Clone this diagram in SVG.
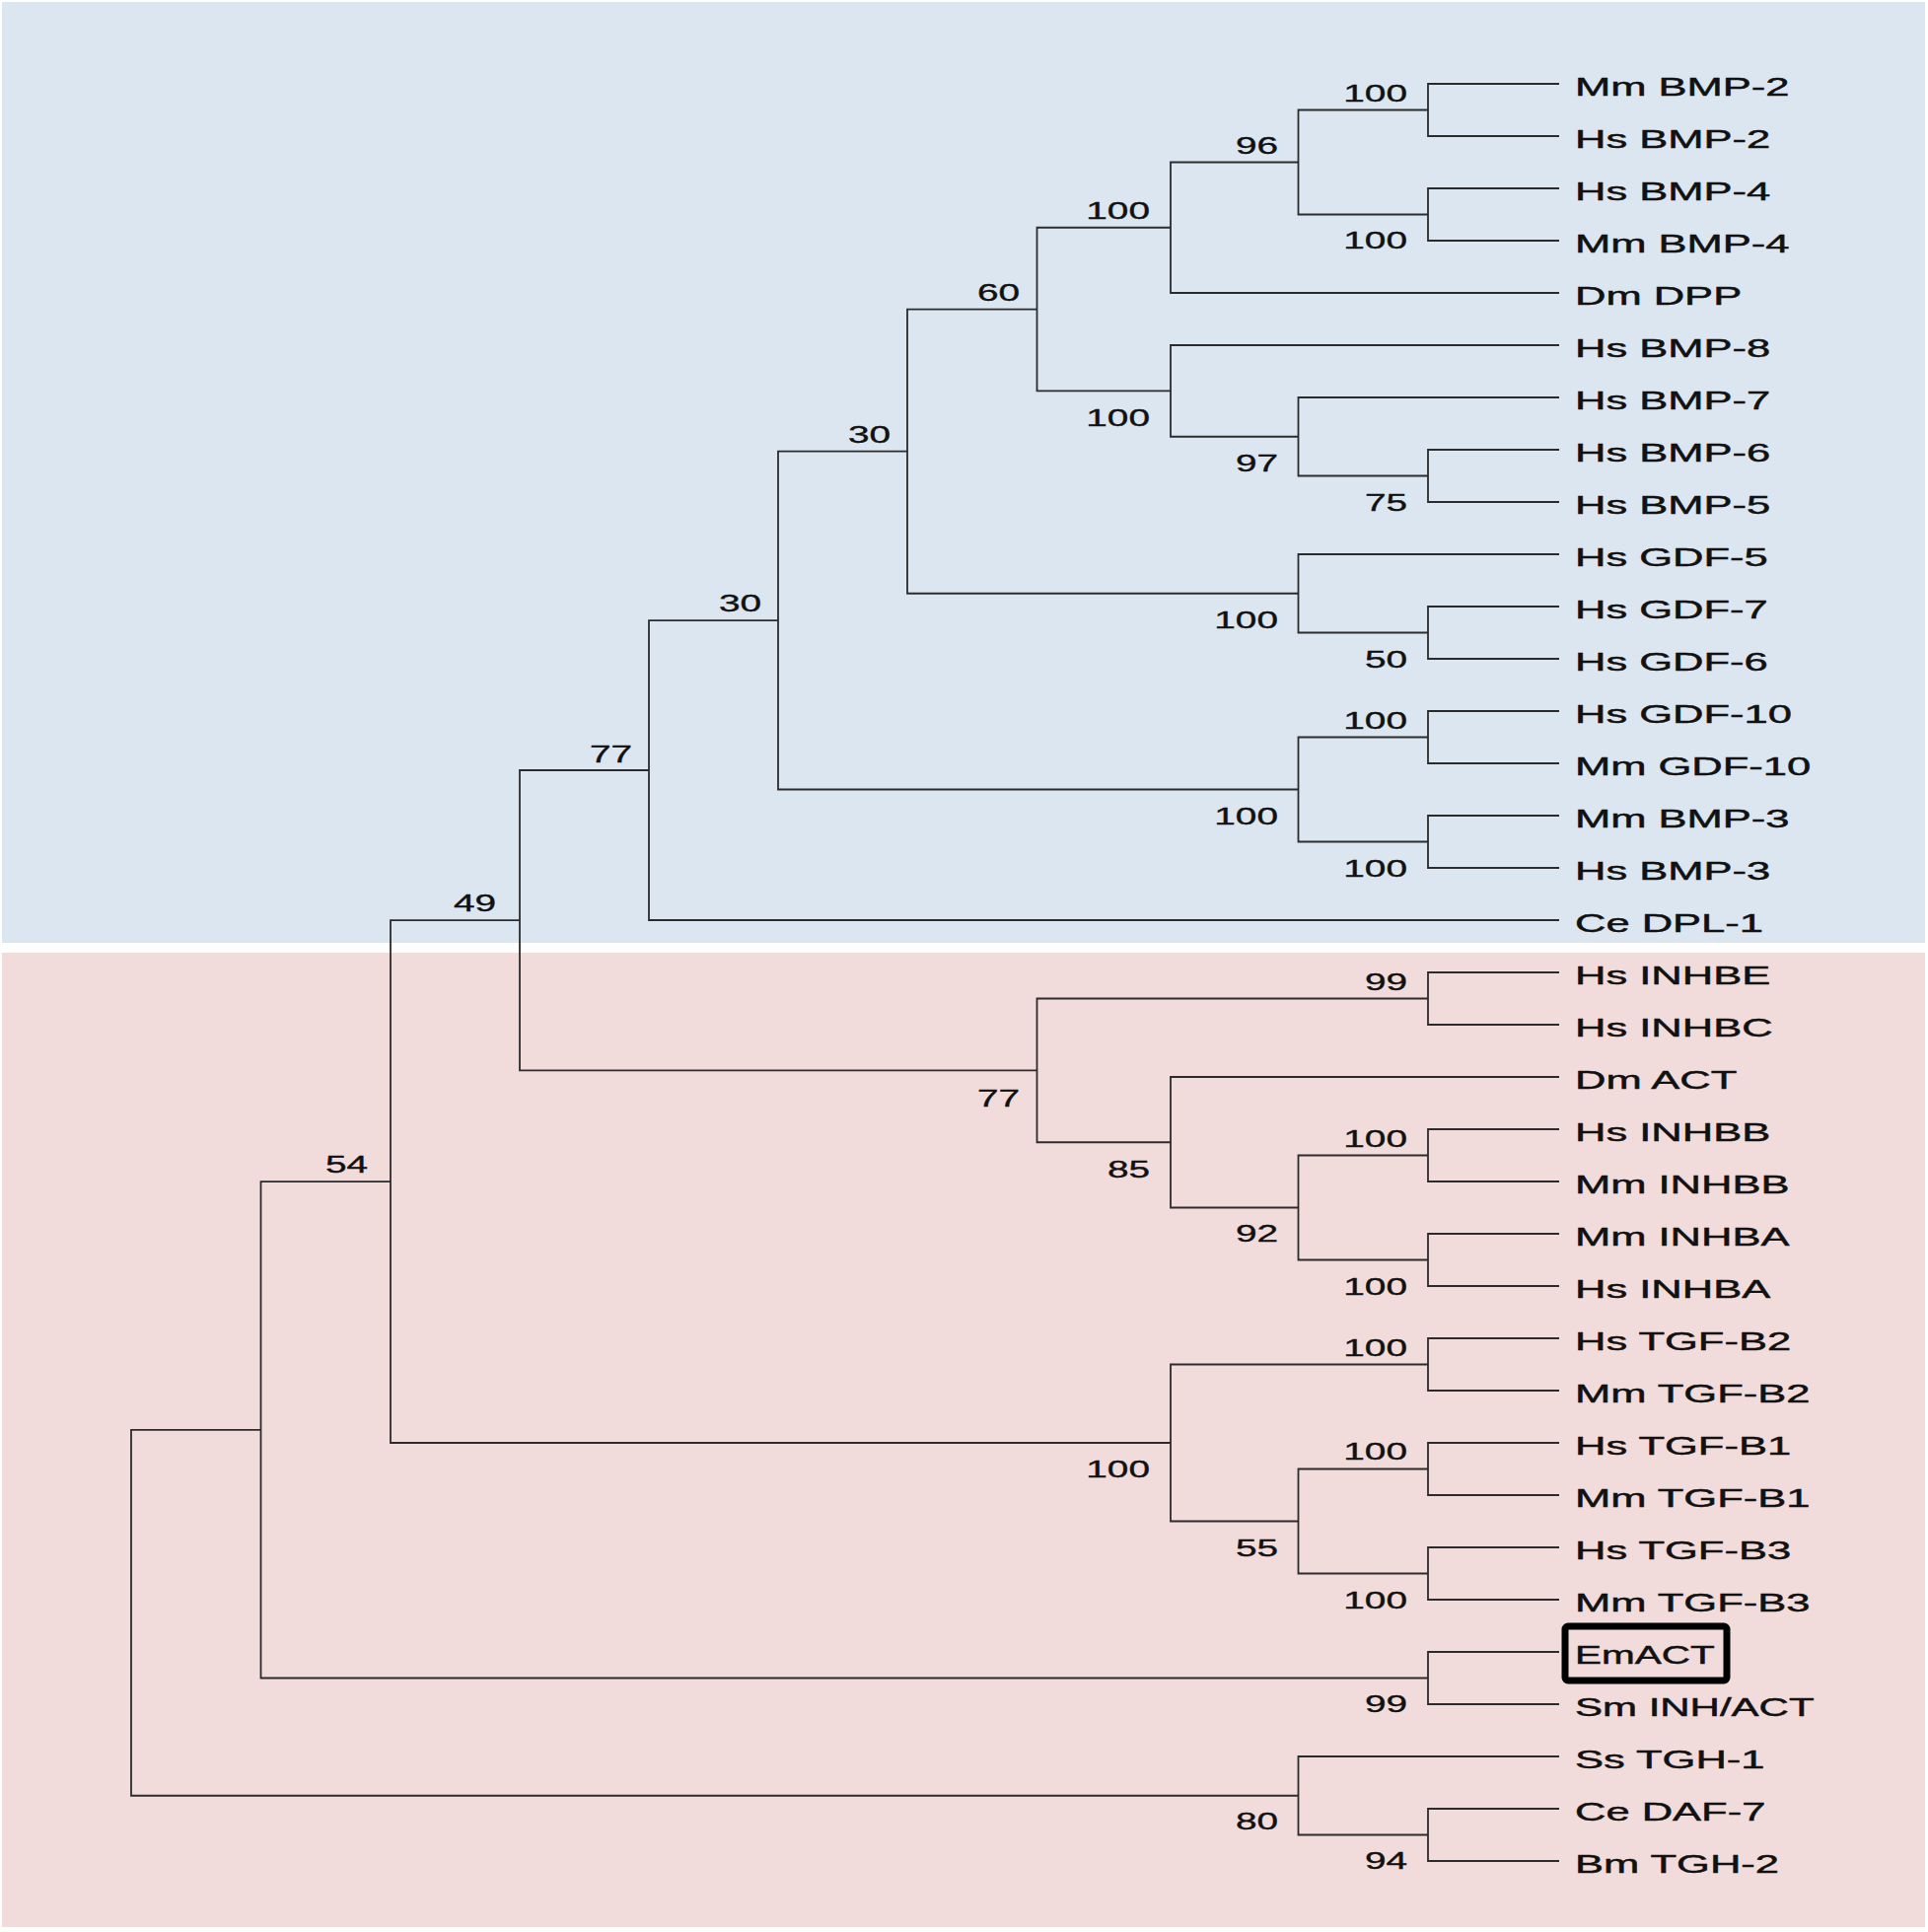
<svg xmlns="http://www.w3.org/2000/svg" width="1955" height="1959" viewBox="0 0 1955 1959">
<style>
.br{fill:none;stroke:#2b2b2b;stroke-width:1.8}
.leaf{font-family:"Liberation Sans",Arial,sans-serif;font-size:25px;fill:#111;stroke:#111;stroke-width:0.45}
.bs{font-family:"Liberation Sans",Arial,sans-serif;font-size:23.5px;fill:#111;stroke:#111;stroke-width:0.35;text-anchor:end}
</style>
<rect x="0" y="0" width="1955" height="1959" fill="#ffffff"/>
<rect x="2" y="2" width="1950" height="954" fill="#dce6f1"/>
<rect x="2" y="966" width="1950" height="988" fill="#f2dcdb"/>
<g id="connectors">
<path class="br" d="M1581 85 H1448 V138 H1581"/>
<path class="br" d="M1581 191 H1448 V244 H1581"/>
<path class="br" d="M1448 111.5 H1316.5 V217.5 H1448"/>
<path class="br" d="M1316.5 164.5 H1187 V297 H1581"/>
<path class="br" d="M1581 456 H1448 V509 H1581"/>
<path class="br" d="M1581 403 H1316.5 V482.5 H1448"/>
<path class="br" d="M1581 350 H1187 V442.75 H1316.5"/>
<path class="br" d="M1187 230.75 H1051.5 V396.4 H1187"/>
<path class="br" d="M1581 615 H1448 V668 H1581"/>
<path class="br" d="M1581 562 H1316.5 V641.5 H1448"/>
<path class="br" d="M1051.5 313.6 H920 V601.75 H1316.5"/>
<path class="br" d="M1581 721 H1448 V774 H1581"/>
<path class="br" d="M1581 827 H1448 V880 H1581"/>
<path class="br" d="M1448 747.5 H1316.5 V853.5 H1448"/>
<path class="br" d="M920 457.7 H789 V800.5 H1316.5"/>
<path class="br" d="M789 629.1 H658 V933 H1581"/>
<path class="br" d="M1581 986 H1448 V1039 H1581"/>
<path class="br" d="M1581 1145 H1448 V1198 H1581"/>
<path class="br" d="M1581 1251 H1448 V1304 H1581"/>
<path class="br" d="M1448 1171.5 H1316.5 V1277.5 H1448"/>
<path class="br" d="M1581 1092 H1187 V1224.5 H1316.5"/>
<path class="br" d="M1448 1012.5 H1051.5 V1158.25 H1187"/>
<path class="br" d="M658 781 H527 V1085.4 H1051.5"/>
<path class="br" d="M1581 1357 H1448 V1410 H1581"/>
<path class="br" d="M1581 1463 H1448 V1516 H1581"/>
<path class="br" d="M1581 1569 H1448 V1622 H1581"/>
<path class="br" d="M1448 1489.5 H1316.5 V1595.5 H1448"/>
<path class="br" d="M1448 1383.5 H1187 V1542.5 H1316.5"/>
<path class="br" d="M527 933.2 H396 V1463 H1187"/>
<path class="br" d="M1581 1675 H1448 V1728 H1581"/>
<path class="br" d="M396 1198.1 H264.5 V1701.5 H1448"/>
<path class="br" d="M1581 1834 H1448 V1887 H1581"/>
<path class="br" d="M1581 1781 H1316.5 V1860.5 H1448"/>
<path class="br" d="M264.5 1449.8 H133 V1820.75 H1316.5"/>
</g>
<g id="leaves">
<g id="leaf-mm-bmp2"><text class="leaf" transform="translate(1597,97) scale(1.74,1)">Mm BMP-2</text></g>
<g id="leaf-hs-bmp2"><text class="leaf" transform="translate(1597,150) scale(1.74,1)">Hs BMP-2</text></g>
<g id="leaf-hs-bmp4"><text class="leaf" transform="translate(1597,203) scale(1.74,1)">Hs BMP-4</text></g>
<g id="leaf-mm-bmp4"><text class="leaf" transform="translate(1597,256) scale(1.74,1)">Mm BMP-4</text></g>
<g id="leaf-dm-dpp"><text class="leaf" transform="translate(1597,309) scale(1.74,1)">Dm DPP</text></g>
<g id="leaf-hs-bmp8"><text class="leaf" transform="translate(1597,362) scale(1.74,1)">Hs BMP-8</text></g>
<g id="leaf-hs-bmp7"><text class="leaf" transform="translate(1597,415) scale(1.74,1)">Hs BMP-7</text></g>
<g id="leaf-hs-bmp6"><text class="leaf" transform="translate(1597,468) scale(1.74,1)">Hs BMP-6</text></g>
<g id="leaf-hs-bmp5"><text class="leaf" transform="translate(1597,521) scale(1.74,1)">Hs BMP-5</text></g>
<g id="leaf-hs-gdf5"><text class="leaf" transform="translate(1597,574) scale(1.74,1)">Hs GDF-5</text></g>
<g id="leaf-hs-gdf7"><text class="leaf" transform="translate(1597,627) scale(1.74,1)">Hs GDF-7</text></g>
<g id="leaf-hs-gdf6"><text class="leaf" transform="translate(1597,680) scale(1.74,1)">Hs GDF-6</text></g>
<g id="leaf-hs-gdf10"><text class="leaf" transform="translate(1597,733) scale(1.74,1)">Hs GDF-10</text></g>
<g id="leaf-mm-gdf10"><text class="leaf" transform="translate(1597,786) scale(1.74,1)">Mm GDF-10</text></g>
<g id="leaf-mm-bmp3"><text class="leaf" transform="translate(1597,839) scale(1.74,1)">Mm BMP-3</text></g>
<g id="leaf-hs-bmp3"><text class="leaf" transform="translate(1597,892) scale(1.74,1)">Hs BMP-3</text></g>
<g id="leaf-ce-dpl1"><text class="leaf" transform="translate(1597,945) scale(1.74,1)">Ce DPL-1</text></g>
<g id="leaf-hs-inhbe"><text class="leaf" transform="translate(1597,998) scale(1.74,1)">Hs INHBE</text></g>
<g id="leaf-hs-inhbc"><text class="leaf" transform="translate(1597,1051) scale(1.74,1)">Hs INHBC</text></g>
<g id="leaf-dm-act"><text class="leaf" transform="translate(1597,1104) scale(1.74,1)">Dm ACT</text></g>
<g id="leaf-hs-inhbb"><text class="leaf" transform="translate(1597,1157) scale(1.74,1)">Hs INHBB</text></g>
<g id="leaf-mm-inhbb"><text class="leaf" transform="translate(1597,1210) scale(1.74,1)">Mm INHBB</text></g>
<g id="leaf-mm-inhba"><text class="leaf" transform="translate(1597,1263) scale(1.74,1)">Mm INHBA</text></g>
<g id="leaf-hs-inhba"><text class="leaf" transform="translate(1597,1316) scale(1.74,1)">Hs INHBA</text></g>
<g id="leaf-hs-tgfb2"><text class="leaf" transform="translate(1597,1369) scale(1.74,1)">Hs TGF-B2</text></g>
<g id="leaf-mm-tgfb2"><text class="leaf" transform="translate(1597,1422) scale(1.74,1)">Mm TGF-B2</text></g>
<g id="leaf-hs-tgfb1"><text class="leaf" transform="translate(1597,1475) scale(1.74,1)">Hs TGF-B1</text></g>
<g id="leaf-mm-tgfb1"><text class="leaf" transform="translate(1597,1528) scale(1.74,1)">Mm TGF-B1</text></g>
<g id="leaf-hs-tgfb3"><text class="leaf" transform="translate(1597,1581) scale(1.74,1)">Hs TGF-B3</text></g>
<g id="leaf-mm-tgfb3"><text class="leaf" transform="translate(1597,1634) scale(1.74,1)">Mm TGF-B3</text></g>
<g id="leaf-emact"><rect x="1587" y="1649" width="164" height="55" rx="3" fill="none" stroke="#000" stroke-width="7"/><text class="leaf" transform="translate(1597,1687) scale(1.62,1)">EmACT</text></g>
<g id="leaf-sm-inhact"><text class="leaf" transform="translate(1597,1740) scale(1.68,1)">Sm INH/ACT</text></g>
<g id="leaf-ss-tgh1"><text class="leaf" transform="translate(1597,1793) scale(1.74,1)">Ss TGH-1</text></g>
<g id="leaf-ce-daf7"><text class="leaf" transform="translate(1597,1846) scale(1.74,1)">Ce DAF-7</text></g>
<g id="leaf-bm-tgh2"><text class="leaf" transform="translate(1597,1899) scale(1.74,1)">Bm TGH-2</text></g>
</g>
<g id="support">
<g id="node-bmp2"><text class="bs" transform="translate(1427,103) scale(1.65,1)">100</text></g>
<g id="node-96"><text class="bs" transform="translate(1296,156) scale(1.65,1)">96</text></g>
<g id="node-bmp4"><text class="bs" transform="translate(1427,252) scale(1.65,1)">100</text></g>
<g id="node-dpp"><text class="bs" transform="translate(1166,222) scale(1.65,1)">100</text></g>
<g id="node-60"><text class="bs" transform="translate(1034,305) scale(1.65,1)">60</text></g>
<g id="node-bmp8"><text class="bs" transform="translate(1166,432) scale(1.65,1)">100</text></g>
<g id="node-97"><text class="bs" transform="translate(1296,478) scale(1.65,1)">97</text></g>
<g id="node-75"><text class="bs" transform="translate(1427,518) scale(1.65,1)">75</text></g>
<g id="node-30a"><text class="bs" transform="translate(903,449) scale(1.65,1)">30</text></g>
<g id="node-gdf5"><text class="bs" transform="translate(1296,637) scale(1.65,1)">100</text></g>
<g id="node-50"><text class="bs" transform="translate(1427,677) scale(1.65,1)">50</text></g>
<g id="node-30b"><text class="bs" transform="translate(772,620) scale(1.65,1)">30</text></g>
<g id="node-gdf10"><text class="bs" transform="translate(1427,739) scale(1.65,1)">100</text></g>
<g id="node-gdf10-bmp3"><text class="bs" transform="translate(1296,836) scale(1.65,1)">100</text></g>
<g id="node-bmp3"><text class="bs" transform="translate(1427,889) scale(1.65,1)">100</text></g>
<g id="node-77a"><text class="bs" transform="translate(641,773) scale(1.65,1)">77</text></g>
<g id="node-49"><text class="bs" transform="translate(503,924) scale(1.65,1)">49</text></g>
<g id="node-99a"><text class="bs" transform="translate(1427,1004) scale(1.65,1)">99</text></g>
<g id="node-77b"><text class="bs" transform="translate(1034,1122) scale(1.65,1)">77</text></g>
<g id="node-85"><text class="bs" transform="translate(1166,1194) scale(1.65,1)">85</text></g>
<g id="node-inhbb"><text class="bs" transform="translate(1427,1163) scale(1.65,1)">100</text></g>
<g id="node-92"><text class="bs" transform="translate(1296,1259) scale(1.65,1)">92</text></g>
<g id="node-inhba"><text class="bs" transform="translate(1427,1313) scale(1.65,1)">100</text></g>
<g id="node-54"><text class="bs" transform="translate(373,1189) scale(1.65,1)">54</text></g>
<g id="node-tgfb2"><text class="bs" transform="translate(1427,1375) scale(1.65,1)">100</text></g>
<g id="node-tgfb"><text class="bs" transform="translate(1166,1498) scale(1.65,1)">100</text></g>
<g id="node-tgfb1"><text class="bs" transform="translate(1427,1480) scale(1.65,1)">100</text></g>
<g id="node-55"><text class="bs" transform="translate(1296,1578) scale(1.65,1)">55</text></g>
<g id="node-tgfb3"><text class="bs" transform="translate(1427,1631) scale(1.65,1)">100</text></g>
<g id="node-99b"><text class="bs" transform="translate(1427,1736) scale(1.65,1)">99</text></g>
<g id="node-80"><text class="bs" transform="translate(1296,1855) scale(1.65,1)">80</text></g>
<g id="node-94"><text class="bs" transform="translate(1427,1895) scale(1.65,1)">94</text></g>
</g>
</svg>
